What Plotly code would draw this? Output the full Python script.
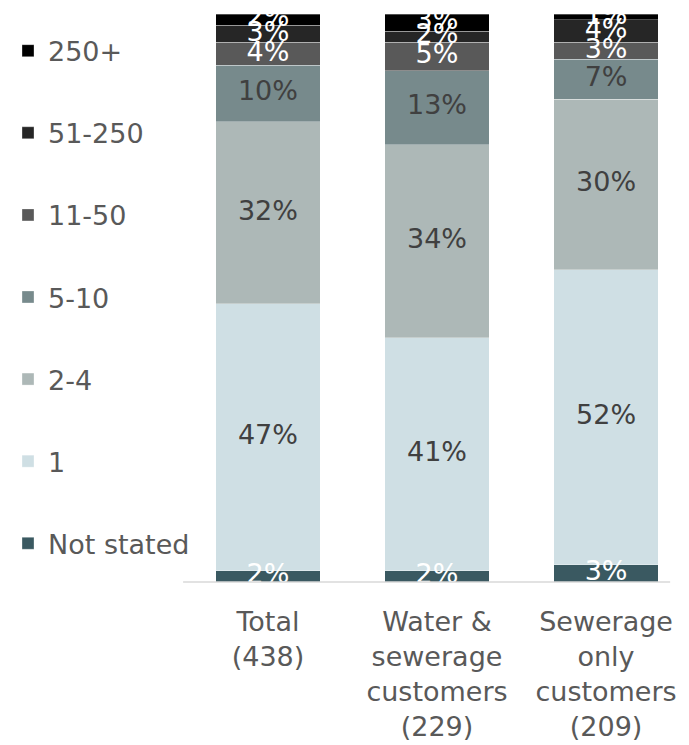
import plotly.graph_objects as go

categories = ["Total<br>(438)", "Water &<br>sewerage<br>customers<br>(229)", "Sewerage<br>only<br>customers<br>(209)"]
series_names = ["Not stated", "1", "2-4", "5-10", "11-50", "51-250", "250+"]
not_stated = [2, 2, 3]
one = [47, 41, 52]
two_four = [32, 34, 30]
five_ten = [10, 13, 7]
eleven_fifty = [4, 5, 3]
fifty_one_250 = [3, 2, 4]
over_250 = [2, 3, 1]
series_values = [not_stated, one, two_four, five_ten, eleven_fifty, fifty_one_250, over_250]
colors = ["#3a5961", "#cfdfe4", "#adb8b7", "#778a8c", "#595959", "#262626", "#000000"]
label_colors = ["#ffffff", "#404040", "#404040", "#404040", "#ffffff", "#ffffff", "#ffffff"]

FONT = "DejaVu Sans"
fig = go.Figure()
cum = [0, 0, 0]
n = len(series_names)
for i, (name, vals, col, lcol) in enumerate(zip(series_names, series_values, colors, label_colors)):
    fig.add_trace(go.Bar(
        x=categories, y=vals, name=name, marker_color=col,
        marker_line=dict(color="rgba(255,255,255,0.45)", width=0.7),
        legendgroup=name, legendrank=n - i, hoverinfo="skip",
    ))
    mids = [c + v / 2 for c, v in zip(cum, vals)]
    cum = [c + v for c, v in zip(cum, vals)]
    fig.add_trace(go.Scatter(
        x=categories, y=mids, mode="text", text=[f"{v}%" for v in vals],
        textfont=dict(family=FONT, size=27, color=lcol),
        showlegend=False, cliponaxis=True, hoverinfo="skip",
    ))

fig.update_layout(
    width=689, height=745,
    margin=dict(l=192, r=0, t=6, b=171),
    barmode="stack", bargap=0.38,
    plot_bgcolor="white", paper_bgcolor="white",
    font=dict(family=FONT, color="#595959", size=27),
    showlegend=True,
    legend=dict(
        xref="container", yref="container", x=0, y=0.975,
        xanchor="left", yanchor="top",
        traceorder="grouped", tracegroupgap=44, maxheight=740,
        font=dict(family=FONT, size=27, color="#595959"),
        itemwidth=30,
    ),
    xaxis=dict(
        range=[-0.402, 2.538],
        showline=False,
        ticks="", tickfont=dict(family=FONT, size=27, color="#595959"),
        showgrid=False, automargin=False, ticklabelstandoff=21,
    ),
    yaxis=dict(range=[0, 100], visible=False, showgrid=False, zeroline=False, automargin=False),
    shapes=[dict(type="line", xref="paper", yref="paper", x0=-0.034, x1=0.946, y0=0, y1=0,
                 line=dict(color="#d9d9d9", width=1.5), layer="above")],
)

fig.write_html("out.html")
